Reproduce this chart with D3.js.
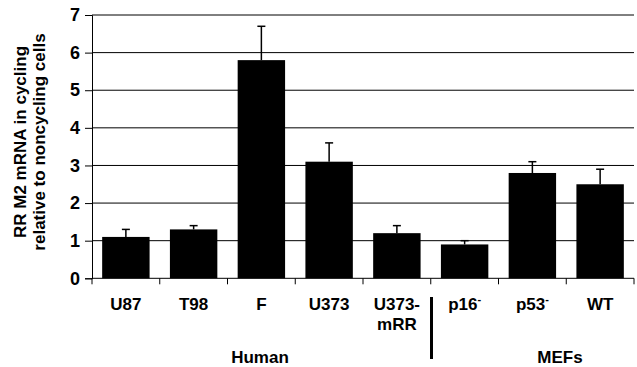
<!DOCTYPE html>
<html><head><meta charset="utf-8">
<script src="https://cdn.jsdelivr.net/npm/d3@7"></script>
<style>body{margin:0;background:#fff}text{font-family:"Liberation Sans",Arial,sans-serif;font-weight:bold;fill:#000}</style>
</head><body><svg id="c" width="637" height="367"></svg>
<script>
const categories = ["U87","T98","F","U373","U373-mRR","p16-","p53-","WT"];
const labelLines = [["U87"],["T98"],["F"],["U373"],["U373-","mRR"],["p16","-"],["p53","-"],["WT"]];
const values = [1.1,1.3,5.8,3.1,1.2,0.9,2.8,2.5];
const errTops = [1.3,1.4,6.7,3.6,1.4,1.0,3.1,2.9];
const yTicks = [0,1,2,3,4,5,6,7];
const groups = [{name:"Human",x:260},{name:"MEFs",x:560}];
const titleLines = ["RR M2 mRNA in cycling","relative to noncycling cells"];

const svg = d3.select("#c");
const x = d3.scaleBand().domain(categories).range([92,634]).paddingInner(0.3).paddingOuter(0.15);
const y = d3.scaleLinear().domain([0,7]).range([278.3,15]);

// gridlines
svg.append("g").selectAll("line").data(yTicks.filter(d=>d>0)).join("line")
  .attr("x1",92).attr("x2",634).attr("y1",d=>y(d)).attr("y2",d=>y(d))
  .attr("stroke","#000").attr("stroke-width",1);

// bars
svg.append("g").selectAll("rect").data(values).join("rect")
  .attr("x",(d,i)=>x(categories[i])).attr("width",x.bandwidth())
  .attr("y",d=>y(d)).attr("height",d=>y(0)-y(d)).attr("fill","#000");

// error bars
const eg = svg.append("g").attr("stroke","#000").attr("stroke-width",1.5);
values.forEach((v,i)=>{
  const cx = x(categories[i]) + x.bandwidth()/2;
  eg.append("line").attr("x1",cx).attr("x2",cx).attr("y1",y(v)).attr("y2",y(errTops[i]));
  eg.append("line").attr("x1",cx-4).attr("x2",cx+4).attr("y1",y(errTops[i])).attr("y2",y(errTops[i]));
});

// y axis
const ya = svg.append("g").attr("transform","translate(92,0)")
  .call(d3.axisLeft(y).tickValues(yTicks).tickSize(7).tickPadding(5).tickFormat(d3.format("d")));
ya.select(".domain").attr("stroke","#000").attr("stroke-width",1);
ya.selectAll(".tick line").attr("stroke","#000");
ya.selectAll("text").style("font-size","18px").attr("font-family",null);

// x axis line and ticks at band boundaries
svg.append("line").attr("x1",92).attr("x2",634).attr("y1",y(0)).attr("y2",y(0)).attr("stroke","#000");
const bounds = categories.map(c=>x(c)-x.step()*x.paddingInner()/2).concat([634]);
bounds[0]=92;
svg.append("g").selectAll("line").data(bounds).join("line")
  .attr("x1",d=>d).attr("x2",d=>d).attr("y1",y(0)).attr("y2",y(0)+6).attr("stroke","#000");

// x labels
labelLines.forEach((ls,i)=>{
  const cx = x(categories[i]) + x.bandwidth()/2;
  const t = svg.append("text").attr("x",cx).attr("y",310).attr("text-anchor","middle").style("font-size","17px");
  if (ls[1]==="-") {
    t.append("tspan").text(ls[0]);
    t.append("tspan").attr("dy",-7).style("font-size","11px").text("-");
  } else {
    ls.forEach((l,j)=>t.append("tspan").attr("x",cx).attr("dy",j?20:0).text(l));
  }
});

// separator
svg.append("line").attr("x1",431.5).attr("x2",431.5).attr("y1",297).attr("y2",359).attr("stroke","#000").attr("stroke-width",3);

// group labels
svg.append("g").selectAll("text").data(groups).join("text")
  .attr("x",d=>d.x).attr("y",363).attr("text-anchor","middle").style("font-size","17px").text(d=>d.name);

// y title
const tt = svg.append("text").attr("transform","translate(0,142) rotate(-90)").attr("text-anchor","middle").style("font-size","17px");
titleLines.forEach((l,j)=>tt.append("tspan").attr("x",0).attr("y",j?45:26).text(l));
</script></body></html>
